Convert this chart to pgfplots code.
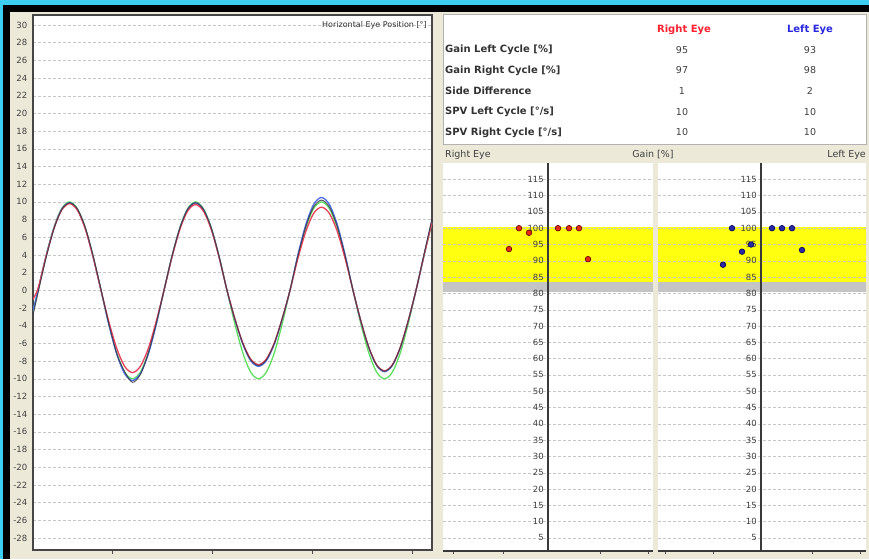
\documentclass[border=0pt]{standalone}
\usepackage{fontspec}
\setmainfont{DejaVu Sans}
\usepackage{pgfplots}
\pgfplotsset{compat=1.18}
\usepackage{pgfplotstable}
\definecolor{bgcyan}{HTML}{3CCFF2}
\definecolor{xpbeige}{HTML}{ECE9D8}
\definecolor{trgreen}{HTML}{5EE05E}
\definecolor{trred}{HTML}{E8405A}
\definecolor{trblue}{HTML}{4A6CE8}
\definecolor{trdark}{HTML}{3A3A48}
\definecolor{bandyellow}{HTML}{FFFF10}
\definecolor{bandgray}{HTML}{C4C4C4}
\definecolor{hdrred}{HTML}{FF2030}
\definecolor{hdrblue}{HTML}{2828E0}
\definecolor{dotred}{HTML}{E82818}
\definecolor{dotblue}{HTML}{2A2AA8}

\pgfplotstableread{
x g r b d
0 -2.47 -1.0 -2.3 -2.8
5.0 0 0.2 0 -0.3
12.9 3.83 3.75 3.79 3.6
20.8 7.07 6.93 7.00 6.9
28.6 9.24 9.06 9.15 9.1
36.5 10 9.8 9.9 9.9
44.4 9.24 9.06 9.15 9.2
52.3 7.07 6.93 7.0 7.1
60.1 3.83 3.75 3.79 3.9
68.0 0 0 0 0.1
75.9 -3.83 -3.56 -3.91 -3.8
83.8 -7.07 -6.58 -7.21 -7.2
91.6 -9.24 -8.59 -9.42 -9.2
99.5 -10 -9.3 -10.2 -10.4
107.4 -9.24 -8.59 -9.42 -9.5
115.3 -7.07 -6.58 -7.21 -7.1
123.1 -3.83 -3.56 -3.91 -3.8
131.0 0 0 0 0
138.9 3.83 3.72 3.79 3.8
146.8 7.07 6.86 7.0 7.0
154.6 9.24 8.96 9.15 9.15
162.5 10 9.7 9.9 9.9
170.4 9.24 8.96 9.15 9.15
178.3 7.07 6.86 7.0 7.0
186.1 3.83 3.72 3.79 3.8
194.0 0 0 0 0
201.9 -3.83 -3.22 -3.29 -3.25
209.8 -7.07 -5.94 -6.08 -6.0
217.6 -9.24 -7.76 -7.95 -7.85
225.5 -10 -8.4 -8.6 -8.5
233.4 -9.24 -7.76 -7.95 -7.85
241.3 -7.07 -5.94 -6.08 -6.0
249.1 -3.83 -3.22 -3.29 -3.25
257.0 0 0 0 0
264.9 3.83 3.6 4.02 3.9
272.8 7.07 6.65 7.42 7.21
280.6 9.24 8.69 9.7 9.42
288.5 10 9.4 10.5 10.2
296.4 9.24 8.69 9.7 9.42
304.3 7.07 6.65 7.42 7.21
312.1 3.83 3.6 4.02 3.9
320.0 0 0 0 0
327.9 -3.83 -3.49 -3.52 -3.5
335.8 -7.07 -6.43 -6.5 -6.45
343.6 -9.24 -8.41 -8.5 -8.45
351.5 -10 -9.1 -9.2 -9.15
359.4 -9.24 -8.41 -8.5 -8.45
367.3 -7.07 -6.43 -6.5 -6.45
375.1 -3.83 -3.49 -3.52 -3.5
383.0 0 0 0 0
390.9 3.83 3.9 3.9 4.0
398.8 7.6 7.6 7.8 8.0
}\eyedata

\newcommand{\trow}[4]{%
  \node[anchor=west, font=\fontsize{10}{11}\selectfont\bfseries, text=black!80, inner sep=0pt] at (445,#2) {#1};
  \node[text=black!75, font=\fontsize{9.5}{10}\selectfont, inner sep=0pt] at (682,#2) {#3};
  \node[text=black!75, font=\fontsize{9.5}{10}\selectfont, inner sep=0pt] at (810,#2) {#4};}

\begin{document}
\begin{tikzpicture}[x=1pt,y=1pt]
\useasboundingbox (0,0) rectangle (869,559);
\fill[bgcyan] (0,0) rectangle (869,559);
\fill[black] (3,0) rectangle (869,554);
\fill[xpbeige] (10,0) rectangle (869,547);

% ---------- table ----------
\filldraw[fill=white, draw=gray!60, line width=1pt] (443,414) rectangle (866,544);
\node[font=\fontsize{10}{11}\selectfont\bfseries, text=hdrred, inner sep=0pt] at (684,529) {Right Eye};
\node[font=\fontsize{10}{11}\selectfont\bfseries, text=hdrblue, inner sep=0pt] at (810,529) {Left Eye};
\trow{Gain Left Cycle [\%]}{509}{95}{93}
\trow{Gain Right Cycle [\%]}{488.5}{97}{98}
\trow{Side Difference}{468}{1}{2}
\trow{SPV Left Cycle [°/s]}{447}{10}{10}
\trow{SPV Right Cycle [°/s]}{426.5}{10}{10}
\node[anchor=west, text=black!75, font=\fontsize{9.5}{10}\selectfont, inner sep=0pt] at (445,404) {Right Eye};
\node[text=black!75, font=\fontsize{9.5}{10}\selectfont, inner sep=0pt] at (653,404) {Gain [\%]};
\node[anchor=east, text=black!75, font=\fontsize{9.5}{10}\selectfont, inner sep=0pt] at (866,404) {Left Eye};

% ---------- left trace plot ----------
\begin{axis}[at={(33pt,9pt)}, anchor=south west, scale only axis,
  width=399pt, height=535pt,
  xmin=0, xmax=399, ymin=-29.36, ymax=31.13,
  ytick={-28,-26,...,30}, xtick={79,179,279,379}, xticklabels={},
  xtick pos=bottom,
  tick align=outside, major tick length=4pt,
  ytick style={draw=none}, xtick style={gray!60!black, line width=1pt},
  ymajorgrids, grid style={dash pattern=on 3pt off 2pt, gray!45},
  axis line style={draw=gray!55!black, line width=1.8pt},
  axis background/.style={fill=white},
  yticklabel style={font=\fontsize{8.5}{9}\selectfont, text=black!75, inner sep=1.5pt},
  /pgf/number format/assume math mode=true,
  clip=true]
\addplot[trgreen, line width=1.3pt, smooth] table[x=x,y=g]{\eyedata};
\addplot[trblue, line width=1.3pt, smooth] table[x=x,y=b]{\eyedata};
\addplot[trred, line width=1.3pt, smooth] table[x=x,y=r]{\eyedata};
\addplot[trdark, line width=1.0pt, smooth, opacity=0.85] table[x=x,y=d]{\eyedata};
\node[anchor=east, font=\fontsize{8}{9}\selectfont, text=black!80, inner sep=1pt] at (axis cs:395,30) {Horizontal Eye Position [°]};
\end{axis}

% ---------- gain panels ----------
\pgfplotsset{gainpanel/.style={anchor=south west, scale only axis,
  height=388pt, ymin=1, ymax=120,
  axis y line=middle, axis x line=bottom,
  axis line style={-, draw=gray!45!black, line width=1.3pt},
  every inner y axis line/.append style={-},
  every outer x axis line/.append style={-},
  ytick={5,10,...,115}, xticklabels={},
  tick align=outside, major tick length=3pt,
  ytick style={draw=none}, xtick style={gray!60!black, line width=0.8pt},
  ymajorgrids, grid style={dash pattern=on 3pt off 2pt, gray!45},
  axis background/.style={fill=white},
  axis on top,
  yticklabel style={font=\fontsize{8.5}{9}\selectfont, text=black!75, inner sep=1pt},
  /pgf/number format/assume math mode=true,
  clip=false}}

\begin{axis}[gainpanel, at={(443pt,8pt)}, width=210pt, xmin=-105, xmax=105,
  xtick={-95,-45,52,100}]
\addplot[draw=none, fill=bandyellow] coordinates {(-105,83.5) (105,83.5) (105,100.3) (-105,100.3)} -- cycle;
\addplot[draw=none, fill=bandgray] coordinates {(-105,80.3) (105,80.3) (105,83.5) (-105,83.5)} -- cycle;
\addplot[only marks, mark=*, mark size=2.8pt, mark options={fill=dotred, draw=red!35!black, line width=0.6pt}]
  coordinates {(-29,100) (-19,98.6) (-39,93.6) (10,100) (21,100) (31,100) (40,90.5)};
\end{axis}

\begin{axis}[gainpanel, at={(658pt,8pt)}, width=208pt, xmin=-103, xmax=105,
  xtick={-96,-48,51,99}]
\addplot[draw=none, fill=bandyellow] coordinates {(-103,83.5) (105,83.5) (105,100.3) (-103,100.3)} -- cycle;
\addplot[draw=none, fill=bandgray] coordinates {(-103,80.3) (105,80.3) (105,83.5) (-103,83.5)} -- cycle;
\addplot[only marks, mark=*, mark size=2.8pt, mark options={fill=dotblue, draw=black!70!blue, line width=0.6pt}]
  coordinates {(-29,100) (-10,95) (-19,92.8) (-38,88.8) (11,100) (21,100) (31,100) (41,93.3)};
\end{axis}
\end{tikzpicture}
\end{document}
